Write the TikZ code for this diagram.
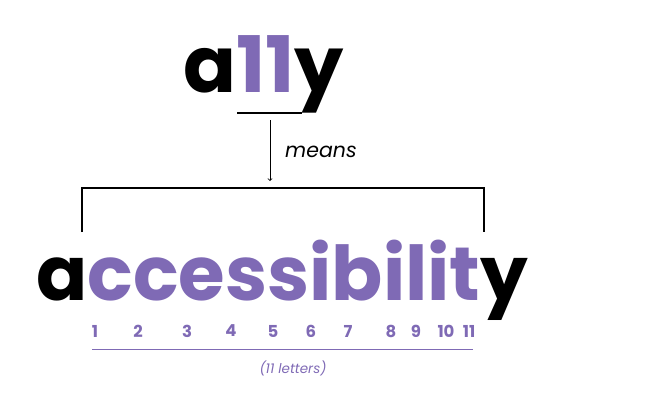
\documentclass[tikz,border=0pt]{standalone}
\usepackage{fontspec}
\setmainfont{Poppins}
\definecolor{lilac}{RGB}{127,106,181}
\begin{document}
\begin{tikzpicture}[x=1pt,y=-1pt,
    word/.style={font=\fontsize{78}{78}\selectfont\bfseries, inner sep=0pt, anchor=base west},
    count/.style={font=\fontsize{16.5}{16.5}\selectfont\bfseries, text=lilac, inner sep=0pt},
    note/.style={font=\itshape, inner sep=0pt}]
    \useasboundingbox (0,0) rectangle (650,407);

    % the short form
    \node [word] (short) at (183,92) {a\textcolor{lilac}{11}y};
    \coordinate (ulL) at (237,113);
    \coordinate (ulR) at (302,113);
    \draw [line width=2pt] (ulL) -- (ulR);

    \coordinate (arrTop) at (270,120);
    \coordinate (arrEnd) at (270,181);
    \draw [-to, line width=0.8pt] (arrTop) -- (arrEnd);
    \node [note, font=\fontsize{20.5}{20.5}\selectfont\itshape, anchor=west] (means) at (285,152) {means};

    % the bracket
    \coordinate (brL) at (82,232);
    \coordinate (brR) at (484,232);
    \draw [line width=2pt] (brL) |- (283,188) -| (brR);

    % the long form
    \node [word, font=\fontsize{75.5}{75.5}\selectfont\bfseries, text depth=0pt] (long) at (36,300)
        {a\textcolor{lilac}{ccessibilit}y};

    % letter count
    \foreach \x/\n in {95/1, 138/2, 187/3, 231/4, 273/5, 311/6, 348/7, 391/8, 416/9, 446/10, 469/11}
        \node [count] (n\n) at (\x,331) {\n};
    \coordinate (cntL) at (92,349);
    \coordinate (cntR) at (473,349);
    \draw [lilac, line width=0.8pt] (cntL) -- (cntR);
    \node [note, font=\fontsize{13.5}{13.5}\selectfont\itshape, text=lilac] (letters) at (293,368) {(11 letters)};
\end{tikzpicture}
\end{document}
